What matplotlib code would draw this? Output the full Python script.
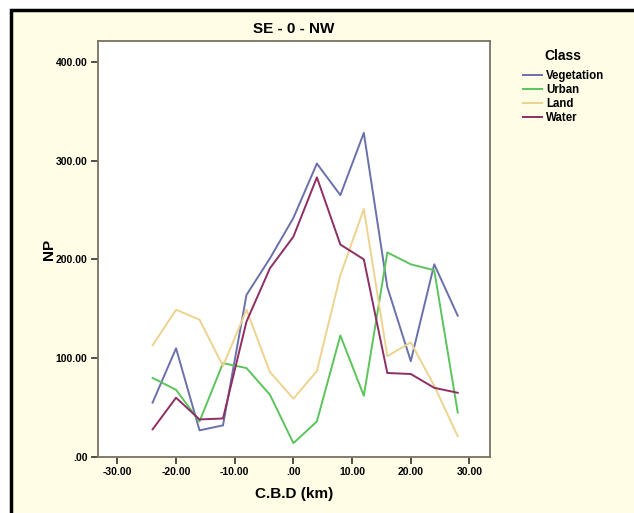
import matplotlib
matplotlib.use("Agg")
import matplotlib.pyplot as plt
from matplotlib.patches import Rectangle
from matplotlib.ticker import FuncFormatter

plt.rcParams["font.family"] = ["Liberation Sans", "DejaVu Sans"]

# uzaklik (km) ve sinif degerleri
cbd = [-24, -20, -16, -12, -8, -4, 0, 4, 8, 12, 16, 20, 24, 28]
vegetation = [55, 110, 27, 32, 164, 201, 242, 297, 265, 328, 172, 97, 195, 143]
urban = [80, 68, 36, 95, 90, 63, 14, 36, 123, 62, 207, 195, 189, 45]
land = [113, 149, 139, 92, 149, 86, 59, 87, 184, 251, 102, 116, 72, 21]
water = [28, 60, 38, 39, 137, 191, 223, 283, 215, 200, 85, 84, 70, 65]

seriler = ["Vegetation", "Urban", "Land", "Water"]
renkler = ["#6a70aa", "#5cc45c", "#ecd38f", "#8e2e63"]


def etiket(v, pos):
    s = "%.2f" % v
    if s.startswith("0"):
        s = s[1:]
    elif s.startswith("-0"):
        s = "-" + s[2:]
    return s


fig = plt.figure(figsize=(6.34, 5.13), dpi=100)
fig.patch.set_facecolor("white")

# dis cerceve (krem arka plan)
W, H = 634, 513
fig.patches.append(Rectangle((11 / W, -0.1), 1.2, 1 - 10 / H + 0.1,
                             transform=fig.transFigure, facecolor="#fffde6",
                             edgecolor="black", linewidth=2.5, zorder=-5))

ax = fig.add_axes([98 / W, 1 - 457 / H, 392 / W, 416 / H])
ax.set_facecolor("white")

for ad, deger, renk in zip(seriler, [vegetation, urban, land, water], renkler):
    ax.plot(cbd, deger, color=renk, linewidth=1.4, label=ad)

ax.set_xlim(-33.3, 33.5)
ax.set_ylim(0, 421)
ax.set_xticks([-30, -20, -10, 0, 10, 20, 30])
ax.set_yticks([0, 100, 200, 300, 400])
ax.xaxis.set_major_formatter(FuncFormatter(etiket))
ax.yaxis.set_major_formatter(FuncFormatter(etiket))
ax.tick_params(labelsize=7.5, length=5, width=1.2, color="#333333", pad=2.5)
for lbl in ax.get_xticklabels() + ax.get_yticklabels():
    lbl.set_fontweight("bold")

for sp in ax.spines.values():
    sp.set_color("#7a7262")
    sp.set_linewidth(1.3)

ax.set_title("SE - 0 - NW", fontsize=11, fontweight="bold", pad=6)
ax.set_xlabel("C.B.D (km)", fontsize=11, fontweight="bold", labelpad=7)
ax.set_ylabel("NP", fontsize=11, fontweight="bold", labelpad=0)

# lejant
fig.text(563 / W, 1 - 56 / H, "Class", fontsize=10, fontweight="bold",
         ha="center", va="center")
leg = fig.legend(loc="upper left", bbox_to_anchor=(517 / W, 1 - 64 / H),
                 frameon=False, fontsize=8.3, borderpad=0,
                 handlelength=1.7, handletextpad=0.3, labelspacing=0.17)
for t in leg.get_texts():
    t.set_fontweight("bold")

fig.savefig("out.png", dpi=100)
